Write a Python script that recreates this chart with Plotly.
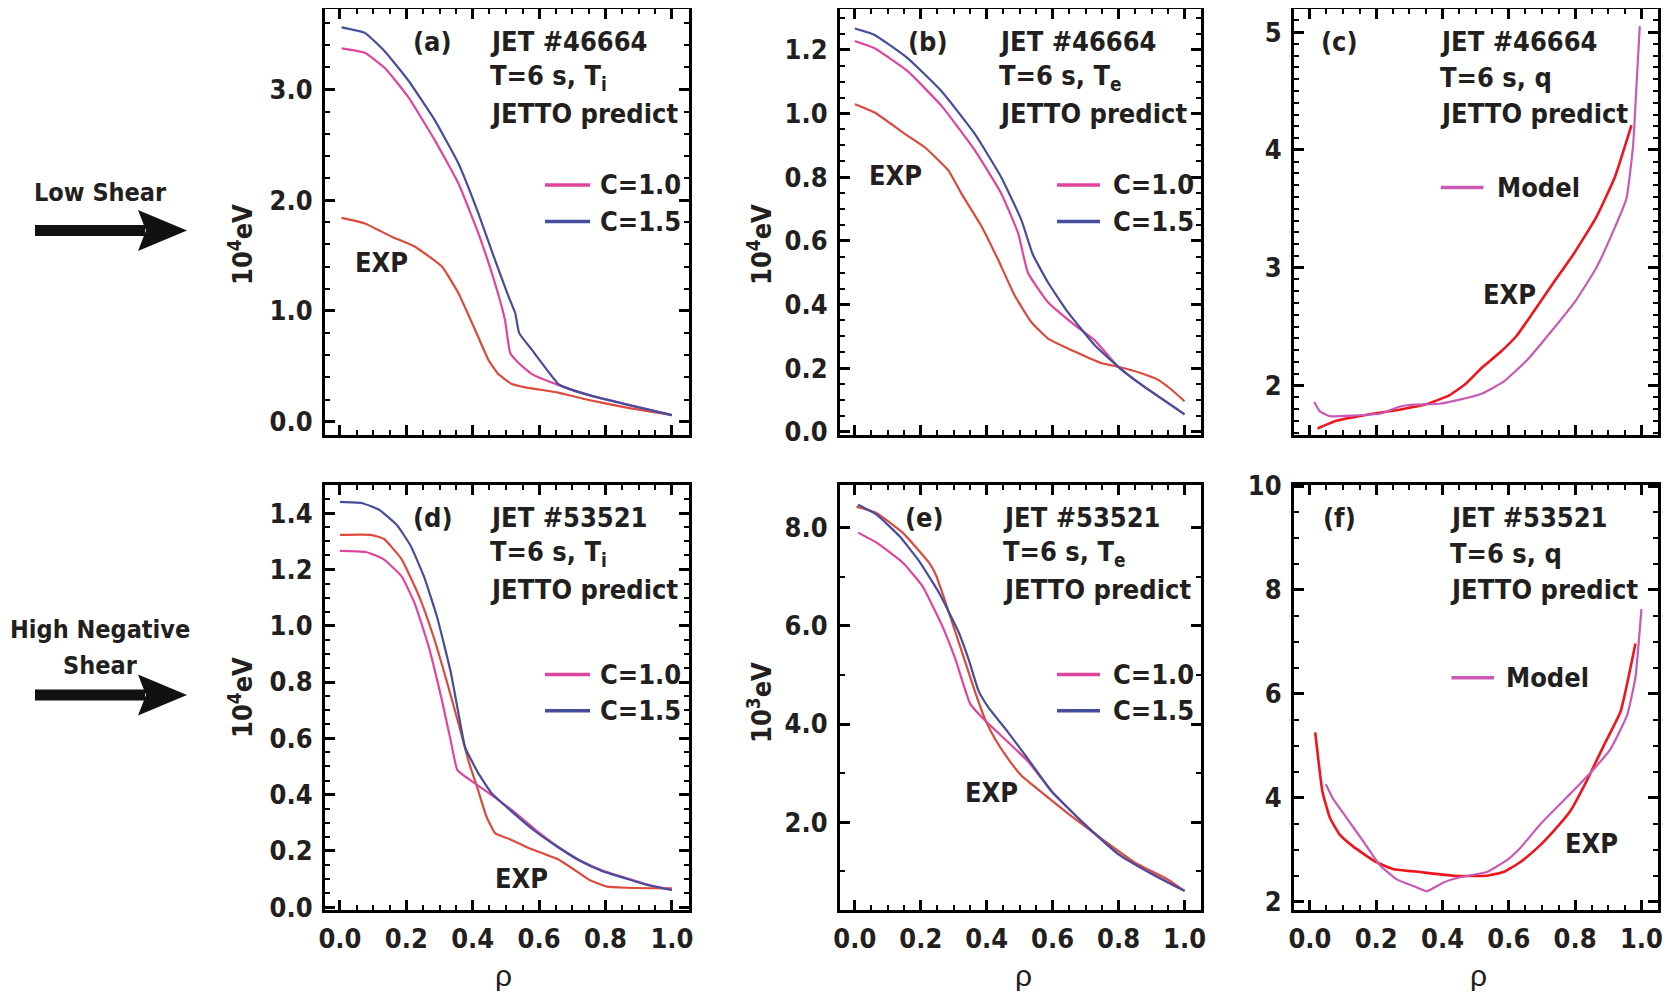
import plotly.graph_objects as go

# browser page has an 8px body margin; figure is sized to fit exactly inside the window
OFF = 8
FW, FH = 1671 - 2 * OFF, 999 - 2 * OFF

# ---------------- data ----------------
# (a) JET #46664, Ti  (1e4 eV)
a_rho_exp = [0.005, 0.075, 0.156, 0.226, 0.307, 0.357, 0.407, 0.447, 0.477, 0.518, 0.558, 0.658, 0.739, 0.859, 1.0]
a_exp = [1.84, 1.79, 1.67, 1.58, 1.40, 1.16, 0.83, 0.56, 0.43, 0.34, 0.31, 0.263, 0.203, 0.129, 0.06]
a_rho_c10 = [0.005, 0.075, 0.136, 0.206, 0.286, 0.357, 0.417, 0.467, 0.497, 0.513, 0.538, 0.578, 0.638, 0.678, 0.759, 0.859, 1.0]
a_c10 = [3.37, 3.33, 3.19, 2.93, 2.54, 2.15, 1.70, 1.25, 0.92, 0.62, 0.53, 0.43, 0.353, 0.31, 0.232, 0.159, 0.06]
a_rho_c15 = [0.005, 0.075, 0.136, 0.206, 0.286, 0.357, 0.417, 0.467, 0.508, 0.528, 0.54, 0.578, 0.618, 0.658, 0.678, 0.759, 0.859, 1.0]
a_c15 = [3.56, 3.51, 3.34, 3.08, 2.72, 2.33, 1.88, 1.46, 1.13, 0.98, 0.80, 0.65, 0.49, 0.34, 0.31, 0.233, 0.159, 0.06]

# (b) JET #46664, Te  (1e4 eV)
b_rho_exp = [0.0, 0.06, 0.152, 0.212, 0.283, 0.323, 0.384, 0.434, 0.485, 0.535, 0.586, 0.667, 0.747, 0.808, 0.869, 0.919, 0.96, 1.0]
b_exp = [1.029, 1.003, 0.936, 0.894, 0.822, 0.749, 0.646, 0.542, 0.428, 0.345, 0.293, 0.252, 0.216, 0.202, 0.184, 0.164, 0.133, 0.096]
b_rho_c10 = [0.0, 0.06, 0.16, 0.263, 0.364, 0.444, 0.495, 0.525, 0.586, 0.667, 0.727, 0.798, 0.869, 1.0]
b_c10 = [1.228, 1.205, 1.133, 1.024, 0.884, 0.749, 0.625, 0.50, 0.407, 0.335, 0.288, 0.205, 0.148, 0.055]
b_rho_c15 = [0.0, 0.06, 0.16, 0.263, 0.364, 0.444, 0.505, 0.54, 0.586, 0.646, 0.727, 0.798, 0.869, 1.0]
b_c15 = [1.267, 1.247, 1.174, 1.07, 0.936, 0.80, 0.666, 0.557, 0.469, 0.376, 0.273, 0.205, 0.148, 0.055]

# (c) JET #46664, q
c_rho_exp = [0.023, 0.08, 0.18, 0.27, 0.35, 0.42, 0.47, 0.52, 0.573, 0.623, 0.673, 0.734, 0.794, 0.864, 0.92, 0.97]
c_exp = [1.635, 1.70, 1.756, 1.795, 1.84, 1.916, 2.015, 2.155, 2.28, 2.42, 2.62, 2.87, 3.11, 3.43, 3.77, 4.21]
c_rho_model = [0.013, 0.03, 0.06, 0.13, 0.21, 0.27, 0.31, 0.39, 0.452, 0.518, 0.583, 0.653, 0.734, 0.804, 0.864, 0.915, 0.955, 0.975, 0.985, 0.995]
c_model = [1.86, 1.78, 1.74, 1.745, 1.76, 1.82, 1.837, 1.845, 1.88, 1.93, 2.03, 2.21, 2.48, 2.73, 3.0, 3.31, 3.59, 4.04, 4.54, 5.05]

# (d) JET #53521, Ti  (1e4 eV)
d_rho_exp = [0.0, 0.092, 0.132, 0.186, 0.24, 0.28, 0.32, 0.36, 0.388, 0.415, 0.441, 0.468, 0.509, 0.563, 0.657, 0.697, 0.751, 0.805, 0.859, 1.0]
d_exp = [1.323, 1.323, 1.309, 1.236, 1.10, 0.968, 0.81, 0.64, 0.517, 0.42, 0.323, 0.262, 0.243, 0.213, 0.17, 0.14, 0.097, 0.073, 0.069, 0.067]
d_rho_c10 = [0.0, 0.078, 0.132, 0.186, 0.226, 0.266, 0.307, 0.334, 0.354, 0.401, 0.455, 0.522, 0.59, 0.657, 0.724, 0.791, 0.859, 0.926, 1.0]
d_c10 = [1.266, 1.262, 1.236, 1.175, 1.077, 0.931, 0.736, 0.59, 0.487, 0.444, 0.40, 0.341, 0.274, 0.215, 0.166, 0.13, 0.104, 0.08, 0.061]
d_rho_c15 = [0.0, 0.065, 0.118, 0.172, 0.213, 0.253, 0.293, 0.334, 0.361, 0.377, 0.415, 0.455, 0.522, 0.59, 0.657, 0.724, 0.791, 0.859, 0.926, 1.0]
d_c15 = [1.44, 1.436, 1.412, 1.357, 1.284, 1.175, 1.029, 0.834, 0.663, 0.568, 0.48, 0.408, 0.335, 0.268, 0.213, 0.164, 0.128, 0.103, 0.079, 0.061]

# (e) JET #53521, Te  (1e3 eV)
e_rho_exp = [0.005, 0.065, 0.145, 0.225, 0.245, 0.275, 0.305, 0.335, 0.365, 0.395, 0.425, 0.465, 0.505, 0.535, 0.648, 0.749, 0.849, 0.95, 1.0]
e_exp = [8.43, 8.30, 7.90, 7.29, 7.05, 6.48, 5.87, 5.26, 4.65, 4.10, 3.70, 3.29, 2.95, 2.78, 2.17, 1.66, 1.18, 0.83, 0.60]
e_rho_c10 = [0.01, 0.065, 0.145, 0.205, 0.265, 0.305, 0.35, 0.395, 0.465, 0.525, 0.598, 0.698, 0.799, 0.9, 1.0]
e_c10 = [7.90, 7.70, 7.29, 6.81, 6.0, 5.32, 4.41, 4.07, 3.63, 3.24, 2.62, 1.95, 1.35, 0.95, 0.60]
e_rho_c15 = [0.01, 0.065, 0.135, 0.195, 0.255, 0.315, 0.345, 0.375, 0.405, 0.465, 0.525, 0.598, 0.698, 0.799, 0.9, 1.0]
e_c15 = [8.47, 8.27, 7.83, 7.32, 6.68, 5.87, 5.32, 4.68, 4.34, 3.83, 3.29, 2.62, 1.95, 1.35, 0.95, 0.60]

# (f) JET #53521, q
f_rho_exp = [0.016, 0.038, 0.06, 0.09, 0.131, 0.2, 0.25, 0.332, 0.433, 0.534, 0.584, 0.634, 0.685, 0.735, 0.786, 0.836, 0.886, 0.937, 0.982]
f_exp = [5.26, 4.11, 3.62, 3.29, 3.06, 2.76, 2.63, 2.57, 2.50, 2.50, 2.57, 2.76, 3.03, 3.36, 3.75, 4.34, 5.0, 5.66, 6.97]
f_rho_model = [0.048, 0.07, 0.11, 0.161, 0.211, 0.262, 0.312, 0.352, 0.403, 0.453, 0.534, 0.594, 0.634, 0.695, 0.775, 0.836, 0.906, 0.957, 0.982, 1.0]
f_model = [4.26, 3.98, 3.62, 3.16, 2.70, 2.43, 2.30, 2.20, 2.37, 2.47, 2.57, 2.80, 3.03, 3.49, 4.01, 4.41, 4.93, 5.59, 6.32, 7.63]

x_ticks = [0.0, 0.2, 0.4, 0.6, 0.8, 1.0]

# ---------------- styles ----------------
FONT = "DejaVu Sans Condensed, Liberation Sans Narrow, Liberation Sans, sans-serif"
FS = 27
TXT = "#231f20"
C_EXP = "#dc4a3c"
C_EXP_Q = "#f0141c"
C_10 = "#e2449c"
C_15 = "#454e9c"
C_MOD = "#c85ab6"

def px_x(p):
    return (p - OFF) / FW

def px_y(p):
    return 1 - (p - OFF) / FH

fig = go.Figure()

panels = [
    dict(n=1, xd=(325, 688.5), yd=(8.5, 435), xr=[-0.045, 1.05], yr=[-0.12, 3.73],
         yt=[0.0, 1.0, 2.0, 3.0], yf=".1f", ym=0.2, xl=False),
    dict(n=2, xd=(840, 1201), yd=(8.5, 435), xr=[-0.045, 1.05], yr=[-0.01, 1.33],
         yt=[0.0, 0.2, 0.4, 0.6, 0.8, 1.0, 1.2], yf=".1f", ym=0.05, xl=False),
    dict(n=3, xd=(1294, 1658), yd=(8.5, 435), xr=[-0.048, 1.05], yr=[1.58, 5.2],
         yt=[2, 3, 4, 5], yf="d", ym=0.1, xl=False),
    dict(n=4, xd=(325, 688.5), yd=(485, 910), xr=[-0.045, 1.05], yr=[-0.01, 1.50],
         yt=[0.0, 0.2, 0.4, 0.6, 0.8, 1.0, 1.2, 1.4], yf=".1f", ym=0.05, xl=True),
    dict(n=5, xd=(840, 1201), yd=(485, 910), xr=[-0.045, 1.05], yr=[0.21, 8.87],
         yt=[2.0, 4.0, 6.0, 8.0], yf=".1f", ym=1.0, xl=True),
    dict(n=6, xd=(1294, 1658), yd=(485, 910), xr=[-0.048, 1.05], yr=[1.84, 10.02],
         yt=[2, 4, 6, 8, 10], yf="d", ym=0.5, xl=True),
]

layout_axes = {}
for p in panels:
    n = p["n"]
    sx = "" if n == 1 else str(n)
    common = dict(showline=True, linewidth=3, linecolor="black", mirror="allticks",
                  ticks="inside", ticklen=10, tickwidth=2.5, tickcolor="black",
                  showgrid=False, zeroline=False, automargin=False,
                  tickfont=dict(family=FONT, size=FS, color=TXT, weight="bold"))
    layout_axes["xaxis" + sx] = dict(
        common, domain=[px_x(p["xd"][0]), px_x(p["xd"][1])], range=p["xr"],
        anchor="y" + sx, tickvals=x_ticks, tickformat=".1f", showticklabels=p["xl"],
        ticklabelstandoff=3,
        minor=dict(dtick=0.05, tick0=0, ticks="inside", ticklen=5, tickwidth=2, tickcolor="black"))
    layout_axes["yaxis" + sx] = dict(
        common, domain=[px_y(p["yd"][1]), px_y(p["yd"][0])], range=p["yr"],
        anchor="x" + sx, tickvals=p["yt"], tickformat=p["yf"], ticklabelstandoff=4,
        minor=dict(dtick=p["ym"], tick0=0, ticks="inside", ticklen=5, tickwidth=2, tickcolor="black"))

def add_line(x, y, color, n, width=2.2):
    sx = "" if n == 1 else str(n)
    fig.add_trace(go.Scatter(x=x, y=y, mode="lines",
                             line=dict(color=color, width=width, shape="spline", smoothing=0.4),
                             xaxis="x" + sx, yaxis="y" + sx, showlegend=False,
                             hoverinfo="skip"))

add_line(a_rho_exp, a_exp, C_EXP, 1)
add_line(a_rho_c10, a_c10, C_10, 1)
add_line(a_rho_c15, a_c15, C_15, 1)
add_line(b_rho_exp, b_exp, C_EXP, 2)
add_line(b_rho_c10, b_c10, C_10, 2)
add_line(b_rho_c15, b_c15, C_15, 2)
add_line(c_rho_exp, c_exp, C_EXP_Q, 3, 2.6)
add_line(c_rho_model, c_model, C_MOD, 3)
add_line(d_rho_exp, d_exp, C_EXP, 4)
add_line(d_rho_c10, d_c10, C_10, 4)
add_line(d_rho_c15, d_c15, C_15, 4)
add_line(e_rho_exp, e_exp, C_EXP, 5)
add_line(e_rho_c10, e_c10, C_10, 5)
add_line(e_rho_c15, e_c15, C_15, 5)
add_line(f_rho_exp, f_exp, C_EXP_Q, 6, 2.6)
add_line(f_rho_model, f_model, C_MOD, 6)

annotations = []
shapes = []

def text(x, y, s, size=FS, anchor="left", bold=True, angle=0, fam=FONT):
    annotations.append(dict(x=px_x(x), y=px_y(y), xref="paper", yref="paper", text=s,
                            showarrow=False, xanchor=anchor, yanchor="middle",
                            textangle=angle,
                            font=dict(family=fam, size=size, color=TXT,
                                      weight="bold" if bold else "normal")))

def seg(x0, x1, y, color, width=3.5):
    shapes.append(dict(type="line", xref="paper", yref="paper", x0=px_x(x0), x1=px_x(x1),
                       y0=px_y(y), y1=px_y(y), line=dict(color=color, width=width)))

# panel labels and headers
row_y = [(41, 77, 113), (517, 553, 589)]
heads = [
    ("(a)", 432, 488, "JET #46664", "T=6 s, T<sub>i</sub>", 0),
    ("(b)", 928, 996.7, "JET #46664", "T=6 s, T<sub>e</sub>", 0),
    ("(c)", 1339.6, 1437.6, "JET #46664", "T=6 s, q", 0),
    ("(d)", 432.7, 488, "JET #53521", "T=6 s, T<sub>i</sub>", 1),
    ("(e)", 924, 1000.7, "JET #53521", "T=6 s, T<sub>e</sub>", 1),
    ("(f)", 1339.6, 1448, "JET #53521", "T=6 s, q", 1),
]
for lab, lx, tx, l1, l2, r in heads:
    y1, y2, y3 = row_y[r]
    text(lx, y1, lab, anchor="center")
    text(tx, y1, l1)
    text(tx, y2, l2)
    text(tx, y3, "JETTO predict")

# legends
for (lx0, lx1, tx, ya, yb) in [(545, 590, 598, 185, 221.5),
                               (1057, 1100, 1111, 185, 221.5),
                               (545, 590, 598, 674.6, 710.8),
                               (1057, 1100, 1111, 674.6, 710.8)]:
    seg(lx0, lx1, ya, C_10)
    text(tx, ya, "C=1.0")
    seg(lx0, lx1, yb, C_15)
    text(tx, yb, "C=1.5")
seg(1440.8, 1483.5, 187.6, C_MOD)
text(1495, 187.6, "Model")
seg(1451.5, 1494, 677.8, C_MOD)
text(1503.7, 677.8, "Model")

# EXP labels
for (x, y) in [(381, 262), (895, 176), (1509, 294), (521, 878), (991, 792), (1591, 843)]:
    text(x, y, "EXP", anchor="center")

# y axis titles
for (x, y, s) in [(240, 245, "10<sup>4</sup>eV"), (759, 245, "10<sup>4</sup>eV"),
                  (240, 698, "10<sup>4</sup>eV"), (759, 703, "10<sup>3</sup>eV")]:
    text(x, y, s, anchor="center", angle=-90)

# x axis titles
for x in [503, 1023, 1478]:
    text(x, 975, "ρ", size=30, anchor="center", bold=False, fam="Liberation Sans, Arial, sans-serif")

# left side labels
text(100, 193, "Low Shear", size=25, anchor="center")
text(100, 629, "High Negative", size=25, anchor="center")
text(100, 665, "Shear", size=25, anchor="center")

# arrows
def arrow(yc):
    shapes.append(dict(type="rect", xref="paper", yref="paper",
                       x0=px_x(35), x1=px_x(145), y0=px_y(yc - 5.5), y1=px_y(yc + 5.5),
                       fillcolor="#111111", line=dict(width=0)))
    path = "M {:.5f},{:.5f} L {:.5f},{:.5f} L {:.5f},{:.5f} L {:.5f},{:.5f} Z".format(
        px_x(138), px_y(yc - 20.5), px_x(187), px_y(yc), px_x(138), px_y(yc + 20.5),
        px_x(146), px_y(yc))
    shapes.append(dict(type="path", xref="paper", yref="paper", path=path,
                       fillcolor="#111111", line=dict(width=0)))

arrow(230.5)
arrow(695)

fig.update_layout(width=FW, height=FH,
                  margin=dict(l=0, r=0, t=0, b=0, autoexpand=False),
                  paper_bgcolor="white", plot_bgcolor="white",
                  font=dict(family=FONT, size=FS, color=TXT, weight="bold"),
                  annotations=annotations, shapes=shapes, showlegend=False,
                  **layout_axes)

fig.write_html("out.html")
